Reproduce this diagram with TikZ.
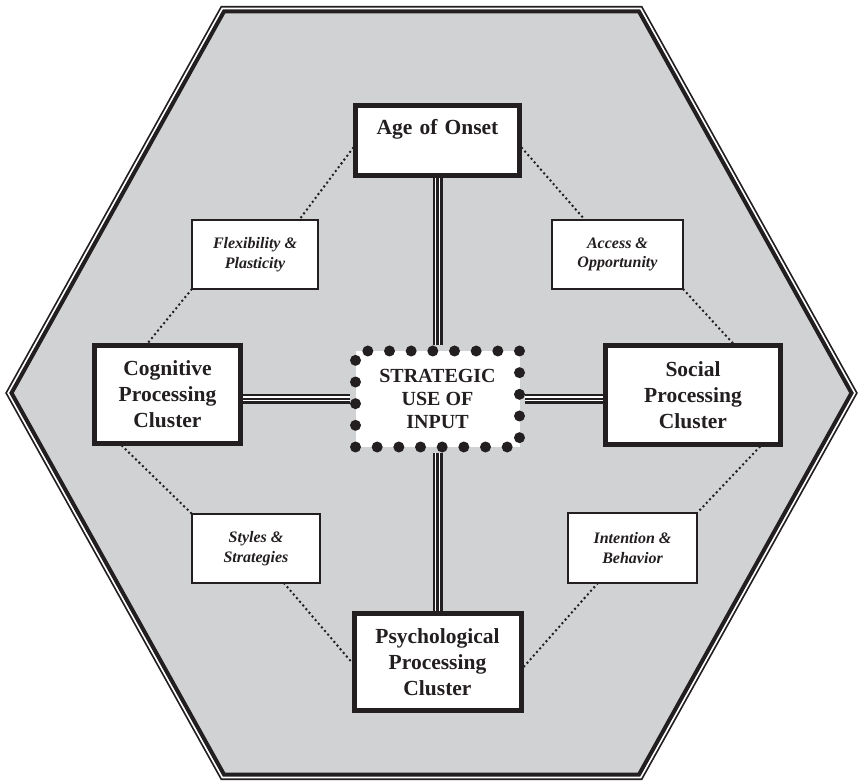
\documentclass[tikz,border=0pt]{standalone}
\usepackage{fontspec}
\setmainfont{Liberation Serif}
\usetikzlibrary{calc}
\pgfdeclarelayer{bg}
\pgfdeclarelayer{conn}
\pgfsetlayers{bg,conn,main}
\definecolor{hexgray}{HTML}{D1D2D4}
\definecolor{ink}{HTML}{231F20}
\begin{document}
\begin{tikzpicture}[x=1pt,y=-1pt,
  bigbox/.style={draw=ink,line width=5pt,fill=white,inner sep=0pt,align=center,
    font=\bfseries\fontsize{21.5}{26}\selectfont,text=ink},
  tagbox/.style={draw=ink,line width=1.2pt,fill=white,inner sep=0pt,align=center,
    font=\bfseries\itshape\fontsize{16}{19.5}\selectfont,text=ink},
  corebox/.style={draw=ink,line width=11pt,line cap=round,dash pattern=on 0pt off 21.667pt,
    fill=white,inner sep=0pt,align=center,minimum width=164pt,minimum height=96pt,
    font=\bfseries\fontsize{20}{23}\selectfont,text=ink},
  dotline/.style={draw=ink,line width=2.8pt,line cap=round,dash pattern=on 0pt off 4.8pt},
  trip/.style={preaction={draw=ink,line width=10pt},preaction={draw=white,line width=5pt},
    draw=ink,line width=2.2pt},
  hexline/.style={line join=miter,preaction={draw=ink,line width=11pt},
    preaction={draw=white,line width=7.5pt},draw=ink,line width=4pt}]
\useasboundingbox (0,0) rectangle (862,783);

\begin{pgfonlayer}{bg}
  \fill[white] (0,0) rectangle (862,783);
  \path[fill=hexgray,hexline] (11.5,393) -- (224,11.5) -- (639,11.5) -- (851.5,393)
     -- (639,774.5) -- (224,774.5) -- cycle;
\end{pgfonlayer}

% main nodes
\node[bigbox,text width=164pt,text height=29.5pt,text depth=40.5pt,anchor=base]
  (age) at (437.5,135) {Age of Onset};
\node[bigbox,minimum width=146pt,minimum height=98pt] (cog) at (167.5,394.5)
  {Cognitive\\Processing\\Cluster};
\node[bigbox,minimum width=175pt,minimum height=99pt] (soc) at (693,395)
  {Social\\Processing\\Cluster};
\node[bigbox,minimum width=167pt,minimum height=97pt] (psy) at (437.5,662)
  {Psychological\\Processing\\Cluster};
\node[corebox] (core) at (437.5,399) {STRATEGIC\\USE OF\\INPUT};

% label boxes
\node[tagbox,minimum width=126pt,minimum height=69pt] (flex) at (255,254.5)
  {Flexibility \&\\Plasticity};
\node[tagbox,minimum width=131pt,minimum height=69pt] (acc) at (617.5,254.5)
  {Access \&\\Opportunity};
\node[tagbox,minimum width=128pt,minimum height=69pt] (sty) at (256,548.5)
  {Styles \&\\Strategies};
\node[tagbox,minimum width=129pt,minimum height=70pt] (int) at (632.5,548)
  {Intention \&\\Behavior};

\begin{pgfonlayer}{conn}
  % triple connectors
  \path[trip] (age.south) -- (age.south |- core.north);
  \path[trip] (core.south) -- (core.south |- psy.north);
  \path[trip] (core.west) -- (core.west -| cog.east);
  \path[trip] (core.east) -- (core.east -| soc.west);
  % dotted connectors
  \path[dotline] ($(age.north west)!0.6!(age.south west)$) -- ($(flex.north west)!0.85!(flex.north east)$);
  \path[dotline] (flex.south west) -- ($(cog.north west)!0.37!(cog.north east)$);
  \path[dotline] ($(age.north east)!0.6!(age.south east)$) -- ($(acc.north west)!0.25!(acc.north east)$);
  \path[dotline] (acc.south east) -- ($(soc.north west)!0.72!(soc.north east)$);
  \path[dotline] ($(cog.south west)!0.2!(cog.south east)$) -- (sty.north west);
  \path[dotline] ($(sty.south west)!0.72!(sty.south east)$) -- ($(psy.north west)!0.5!(psy.south west)$);
  \path[dotline] ($(soc.south west)!0.87!(soc.south east)$) -- (int.north east);
  \path[dotline] ($(int.south west)!0.23!(int.south east)$) -- ($(psy.north east)!0.55!(psy.south east)$);
\end{pgfonlayer}
\end{tikzpicture}
\end{document}
